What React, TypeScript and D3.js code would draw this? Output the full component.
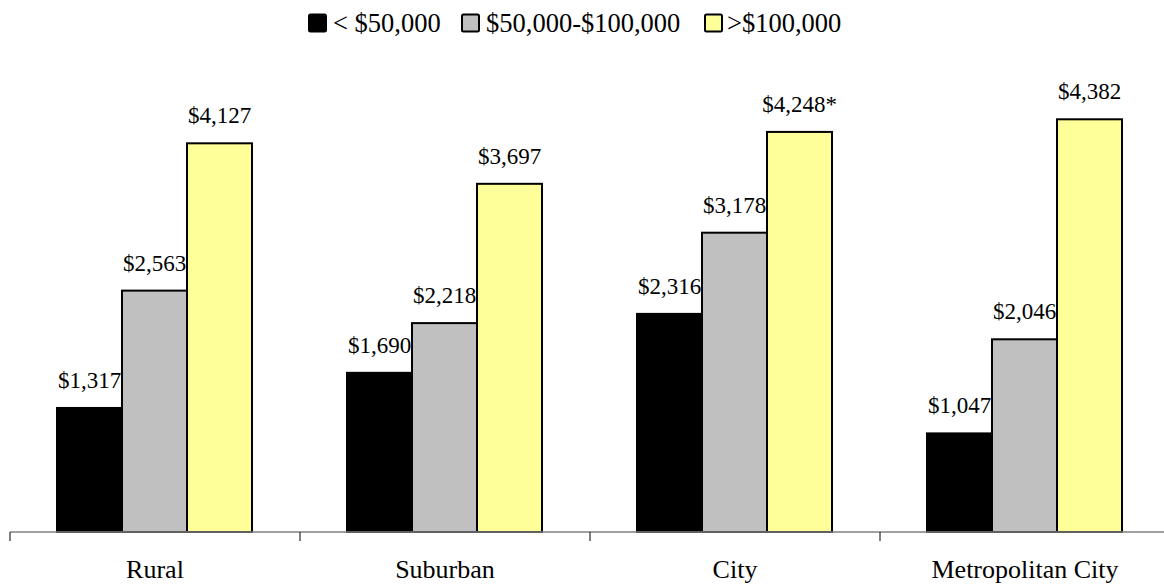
import React from "react";
import * as d3 from "d3";

const categories = ["Rural", "Suburban", "City", "Metropolitan City"];
const seriesNames = ["< $50,000", "$50,000-$100,000", ">$100,000"];
const seriesColors = ["#000000", "#C0C0C0", "#FFFF99"];
const lowIncome = [1317, 1690, 2316, 1047];
const midIncome = [2563, 2218, 3178, 2046];
const highIncome = [4127, 3697, 4248, 4382];
const highIncomeNotes = ["", "", "*", ""];
const seriesValues = [lowIncome, midIncome, highIncome];
const seriesNotes = [["", "", "", ""], ["", "", "", ""], highIncomeNotes];

const W = 1164;
const H = 585;
const axisY = 532;
const FONT = "'Times New Roman', Times, 'Liberation Serif', serif";

export default function App() {
  const x = d3.scaleBand<string>().domain(categories).range([10, 1170]).paddingInner(0).paddingOuter(0);
  const inner = d3.scaleBand<number>().domain([0, 1, 2]).range([47, 242]).padding(0);
  const y = d3.scaleLinear().domain([0, 5000]).range([axisY, axisY - 5000 * 0.09418]);
  const fmt = d3.format("$,.0f");

  const legendX = [309, 462, 705];
  const legendTextX = [333, 486, 727];
  const ts = { fontFamily: FONT };

  return (
    <svg width={W} height={H} style={{ position: "absolute", left: 0, top: 0, background: "#fff", fontFamily: FONT }}>
      {seriesNames.map((name, i) => (
        <g key={name}>
          <rect x={legendX[i]} y={14.5} width={17} height={17} rx={1.5} fill={seriesColors[i]} stroke="#000" strokeWidth={2} />
          <text x={legendTextX[i]} y={32} fontSize={26.5} fill="#000" style={ts}>{name}</text>
        </g>
      ))}
      {seriesValues.map((vals, s) => (
        <g key={s}>
          {categories.map((c, i) => {
            const bx = (x(c) as number) + (inner(s) as number);
            const bw = inner.bandwidth();
            const by = y(vals[i]);
            return (
              <g key={c}>
                <rect x={bx} y={by} width={bw} height={axisY - by} fill={seriesColors[s]} stroke="#000" strokeWidth={2} />
                <text x={bx + bw / 2} y={by - 20} textAnchor="middle" fontSize={23} fill="#000" style={ts}>
                  {fmt(vals[i]) + seriesNotes[s][i]}
                </text>
              </g>
            );
          })}
        </g>
      ))}
      <line x1={10} x2={W} y1={axisY} y2={axisY} stroke="#808080" strokeWidth={1.5} />
      {[...categories.map((c) => x(c) as number), 1170].map((t, i) => (
        <line key={i} x1={t} x2={t} y1={axisY} y2={axisY + 9} stroke="#000" strokeWidth={1} />
      ))}
      {categories.map((c) => (
        <text key={c} x={(x(c) as number) + x.bandwidth() / 2} y={578} textAnchor="middle" fontSize={26} fill="#000" style={ts}>
          {c}
        </text>
      ))}
    </svg>
  );
}
